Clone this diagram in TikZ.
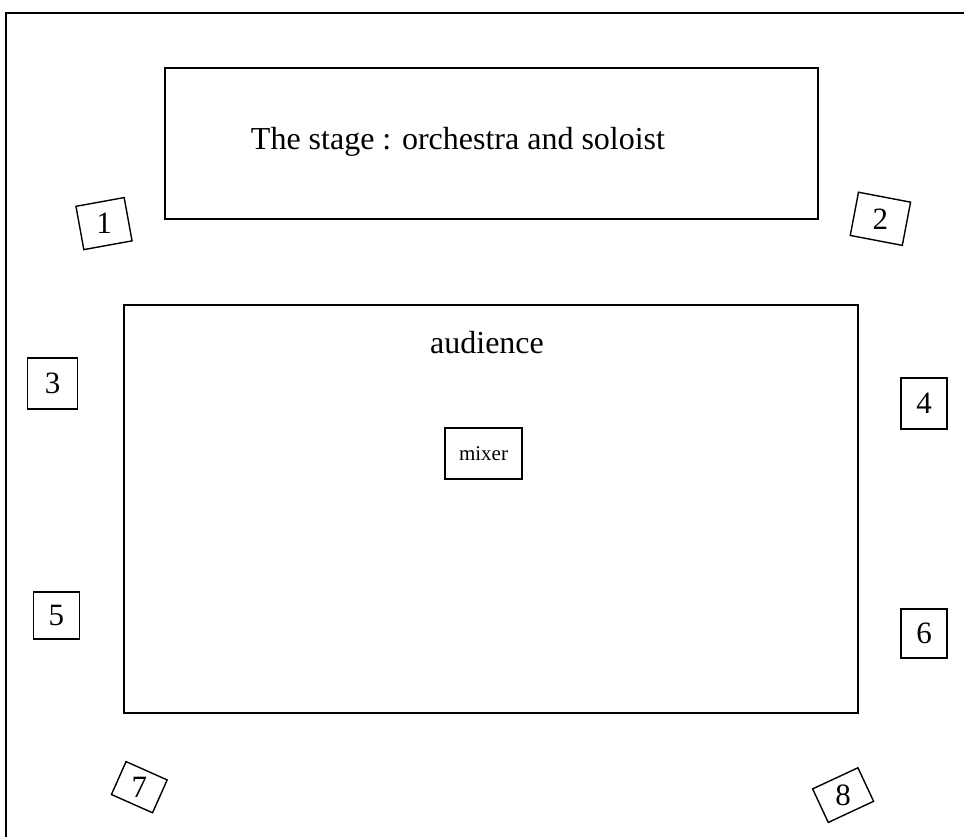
\documentclass[tikz,border=0pt]{standalone}
\usepackage{fontspec}
\setmainfont{Liberation Serif}
\begin{document}
\begin{tikzpicture}[x=1pt,y=-1pt,
  frameline/.style={line width=1.4pt},
  box/.style={draw, line width=1.4pt, inner sep=0pt, rectangle},
  num/.style={box, font=\fontsize{31}{31}\selectfont},
  numtext/.style={inner sep=0pt, font=\fontsize{31}{31}\selectfont},
  bigtext/.style={font=\fontsize{32}{32}\selectfont, inner sep=0pt},
]
\useasboundingbox (0,0) rectangle (964,837);
% outer frame (left and top sides)
\coordinate (fbl) at (6,837);
\coordinate (ftl) at (6,13);
\coordinate (ftr) at (964,13);
\draw[frameline] (fbl) -- (ftl) -- (ftr);
% stage
\node[box, minimum width=653, minimum height=151] (stage) at (491.5,143.5) {};
\node[bigtext] (stagetext) at (458,142) {The stage : orchestra and soloist};
% audience
\node[box, minimum width=734, minimum height=408] (aud) at (491,509) {};
\node[bigtext] (audtext) at (487,343) {audience};
\node[box, minimum width=77, minimum height=51, font=\fontsize{21}{21}\selectfont] (mixer) at (483.5,453.5) {mixer};
% speakers
\node[box, minimum width=49, minimum height=44, rotate=10.3] (s1) at (104,223.6) {};
\node[numtext] (s1t) at (s1.center) {1};
\node[box, minimum width=53, minimum height=44, rotate=-10.8] (s2) at (880.4,218.8) {};
\node[numtext] (s2t) at (s2.center) {2};
\node[num, minimum width=50, minimum height=51] (s3) at (52.7,383.5) {3};
\node[num, minimum width=46, minimum height=51] (s4) at (924,403.5) {4};
\node[num, minimum width=46, minimum height=47] (s5) at (56.3,615.3) {5};
\node[num, minimum width=46, minimum height=49] (s6) at (924,633.5) {6};
\node[box, minimum width=45, minimum height=36, rotate=-24] (s7) at (139.3,787.2) {};
\node[numtext] (s7t) at (s7.center) {7};
\node[box, minimum width=50, minimum height=37, rotate=25] (s8) at (843.1,795.1) {};
\node[numtext] (s8t) at (s8.center) {8};
\end{tikzpicture}
\end{document}
